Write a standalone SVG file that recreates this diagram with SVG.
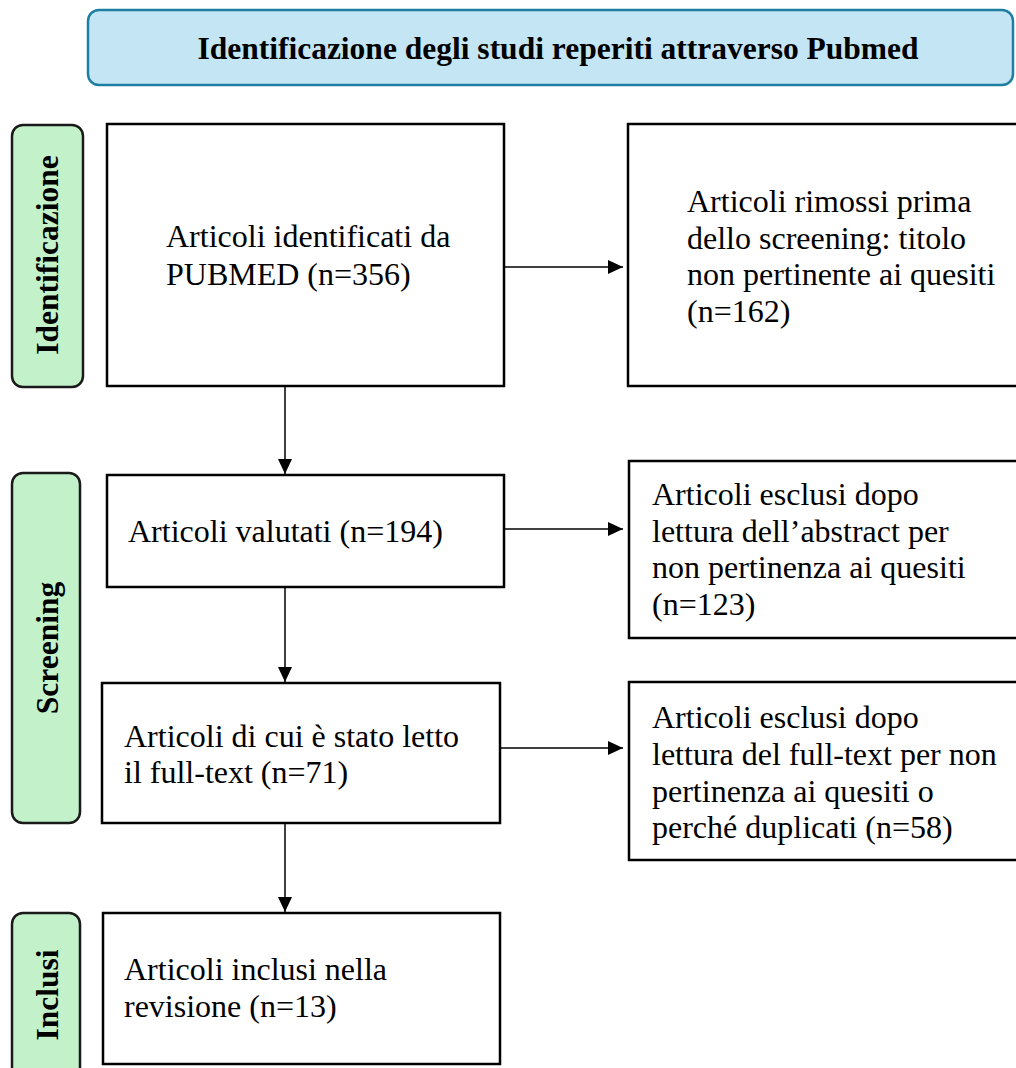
<svg xmlns="http://www.w3.org/2000/svg" width="1016" height="1068" viewBox="0 0 1016 1068">
<style>
.box{fill:#ffffff;stroke:#000000;stroke-width:2.5}
.side{fill:#c3f1c9;stroke:#1a1a1a;stroke-width:2.5}
.hdr{fill:#c4e5f4;stroke:#1f7fa3;stroke-width:2.5}
.t{font-family:"Liberation Serif","Times New Roman",serif;font-size:32px;fill:#000}
.b{font-family:"Liberation Serif","Times New Roman",serif;font-size:31.5px;font-weight:bold;fill:#000}
.c{stroke:#000;stroke-width:1.5;fill:none}
</style>
<defs>
<marker id="ah" viewBox="0 0 15 14" refX="15" refY="7" markerWidth="15" markerHeight="14" markerUnits="userSpaceOnUse" orient="auto">
<path d="M0,0 L15,7 L0,14 Z" fill="#000"/>
</marker>
</defs>
<rect width="1016" height="1068" fill="#ffffff"/>
<g id="header">
<rect class="hdr" x="88" y="10" width="925" height="75" rx="11"/>
<text class="b" x="558" y="59" text-anchor="middle" font-size="33">Identificazione degli studi reperiti attraverso Pubmed</text>
</g>
<g id="lane-identificazione">
<rect class="side" x="12" y="125" width="71" height="262" rx="11"/>
<text class="b" transform="translate(58,255) rotate(-90)" text-anchor="middle">Identificazione</text>
</g>
<g id="lane-screening">
<rect class="side" x="12" y="473" width="68" height="350" rx="11"/>
<text class="b" transform="translate(58,648) rotate(-90)" text-anchor="middle">Screening</text>
</g>
<g id="lane-inclusi">
<rect class="side" x="12" y="913" width="68" height="170" rx="11"/>
<text class="b" transform="translate(58,995) rotate(-90)" text-anchor="middle">Inclusi</text>
</g>
<g id="n-identificati">
<rect class="box" x="107" y="124" width="397" height="262"/>
<text class="t" x="166" y="247">Articoli identificati da</text>
<text class="t" x="166" y="285">PUBMED (n=356)</text>
</g>
<g id="n-rimossi">
<rect class="box" x="628" y="124" width="400" height="262"/>
<text class="t" x="687" y="212">Articoli rimossi prima</text>
<text class="t" x="687" y="249">dello screening: titolo</text>
<text class="t" x="687" y="285">non pertinente ai quesiti</text>
<text class="t" x="687" y="322">(n=162)</text>
</g>
<g id="n-valutati">
<rect class="box" x="107" y="475" width="397" height="112"/>
<text class="t" x="128" y="542">Articoli valutati (n=194)</text>
</g>
<g id="n-esclusi-abstract">
<rect class="box" x="629" y="461" width="400" height="177"/>
<text class="t" x="652" y="505">Articoli esclusi dopo</text>
<text class="t" x="652" y="542">lettura dell’abstract per</text>
<text class="t" x="652" y="578">non pertinenza ai quesiti</text>
<text class="t" x="652" y="615">(n=123)</text>
</g>
<g id="n-fulltext">
<rect class="box" x="102" y="683" width="398" height="140"/>
<text class="t" x="124" y="747">Articoli di cui è stato letto</text>
<text class="t" x="124" y="783">il full-text (n=71)</text>
</g>
<g id="n-esclusi-fulltext">
<rect class="box" x="629" y="682" width="400" height="178"/>
<text class="t" x="652" y="728">Articoli esclusi dopo</text>
<text class="t" x="652" y="765">lettura del full-text per non</text>
<text class="t" x="652" y="802">pertinenza ai quesiti o</text>
<text class="t" x="652" y="838">perché duplicati (n=58)</text>
</g>
<g id="n-inclusi">
<rect class="box" x="103" y="913" width="397" height="151"/>
<text class="t" x="124" y="980">Articoli inclusi nella</text>
<text class="t" x="124" y="1017">revisione (n=13)</text>
</g>
<g id="connectors">
<line class="c" x1="505" y1="267" x2="623" y2="267" marker-end="url(#ah)"/>
<line class="c" x1="285" y1="387" x2="285" y2="474" marker-end="url(#ah)"/>
<line class="c" x1="505" y1="529" x2="623" y2="529" marker-end="url(#ah)"/>
<line class="c" x1="285" y1="588" x2="285" y2="682" marker-end="url(#ah)"/>
<line class="c" x1="501" y1="748" x2="623" y2="748" marker-end="url(#ah)"/>
<line class="c" x1="285" y1="824" x2="285" y2="912" marker-end="url(#ah)"/>
</g>
</svg>
